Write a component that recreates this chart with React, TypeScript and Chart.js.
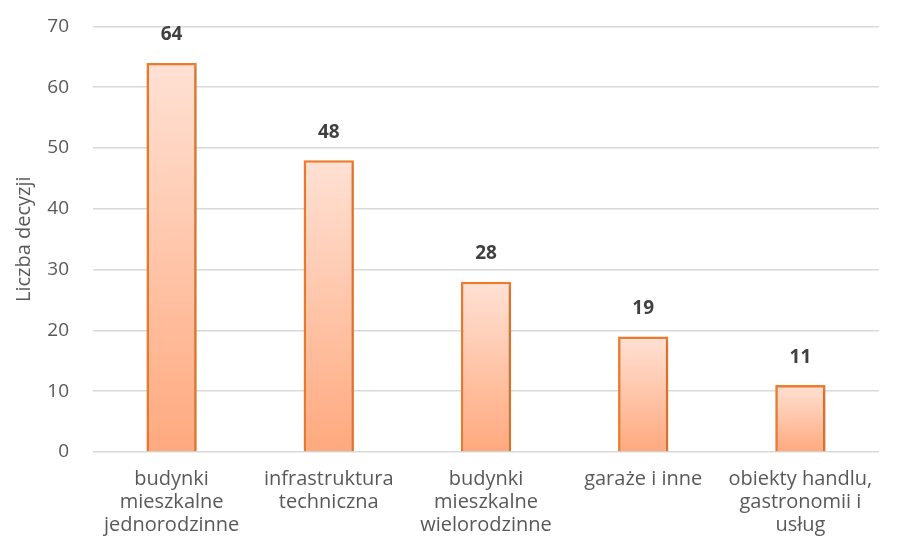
import React, { useEffect, useRef } from "react";
import { Chart, registerables } from "chart.js";

Chart.register(...registerables);

const categories: string[][] = [
  ["budynki", "mieszkalne", "jednorodzinne"],
  ["infrastruktura", "techniczna"],
  ["budynki", "mieszkalne", "wielorodzinne"],
  ["garaże i inne"],
  ["obiekty handlu,", "gastronomii i", "usług"],
];
const values: number[] = [64, 48, 28, 19, 11];
const yTicks = { min: 0, max: 70, step: 10 };
const yTitle = "Liczba decyzji";

const FONT = "'Open Sans', 'DejaVu Sans', sans-serif";
const SHIFT = 9;

const labelPlugin = {
  id: "valueLabels",
  afterDatasetsDraw(chart: any) {
    const { ctx } = chart;
    const meta = chart.getDatasetMeta(0);
    ctx.save();
    ctx.font = `bold 19px ${FONT}`;
    ctx.fillStyle = "#404040";
    ctx.textAlign = "center";
    ctx.textBaseline = "middle";
    meta.data.forEach((bar: any, i: number) => {
      ctx.fillText(String(values[i]), bar.x, bar.y - 28);
    });
    ctx.restore();
  },
};

const shadowPlugin = {
  id: "barShadow",
  beforeDatasetsDraw(chart: any) {
    const { ctx } = chart;
    ctx.save();
    ctx.shadowColor = "rgba(0,0,0,0.18)";
    ctx.shadowBlur = 4;
    ctx.shadowOffsetX = 1;
    ctx.shadowOffsetY = 2;
  },
  afterDatasetsDraw(chart: any) {
    chart.ctx.restore();
  },
};

export default function App() {
  const ref = useRef<HTMLCanvasElement | null>(null);
  useEffect(() => {
    if (!ref.current) return;
    const chart = new Chart(ref.current, {
      type: "bar",
      data: {
        labels: categories,
        datasets: [
          {
            data: values,
            backgroundColor: (c: any) => {
              const ch = c.chart;
              const y = ch.scales?.y;
              if (!y || c.dataIndex === undefined) return "#FFC4A6";
              const top = y.getPixelForValue(values[c.dataIndex]);
              const bottom = y.getPixelForValue(0);
              if (!isFinite(top) || !isFinite(bottom) || top === bottom) return "#FFC4A6";
              const g = ch.ctx.createLinearGradient(0, top, 0, bottom);
              g.addColorStop(0, "#FFE1D4");
              g.addColorStop(1, "#FFA97E");
              return g;
            },
            borderColor: "#F07D2D",
            borderWidth: 2.6,
            barPercentage: 0.32,
            categoryPercentage: 1,
          },
        ],
      },
      options: {
        animation: false,
        responsive: false,
        maintainAspectRatio: false,
        layout: { padding: { top: 10, right: 19, left: 0, bottom: 0 } },
        plugins: {
          legend: { display: false },
          tooltip: { enabled: false },
        },
        scales: {
          x: {
            grid: { display: false },
            border: { display: false },
            ticks: {
              color: "#595959",
              font: { family: FONT, size: 20, lineHeight: 1.15 },
              maxRotation: 0,
              autoSkip: false,
              padding: 8,
            },
            afterFit: (s: any) => {
              s.height = 97;
            },
          },
          y: {
            min: yTicks.min,
            max: yTicks.max,
            ticks: {
              stepSize: yTicks.step,
              color: "#595959",
              font: { family: FONT, size: 19 },
              padding: 24,
            },
            grid: { color: "#D9D9D9", lineWidth: 1.5, drawTicks: false },
            border: { display: false },
            title: {
              display: true,
              text: yTitle,
              color: "#595959",
              font: { family: FONT, size: 20 },
              padding: { top: 12, bottom: 0 },
            },
            afterFit: (s: any) => {
              s.width = 93;
            },
          },
        },
      },
      plugins: [shadowPlugin, labelPlugin],
    });
    return () => chart.destroy();
  }, []);
  return (
    <div style={{ position: "absolute", left: 0, top: 0, width: 898, height: 549, background: "#fff", overflow: "hidden" }}>
      <canvas
        ref={ref}
        width={898}
        height={549 + SHIFT}
        style={{ position: "absolute", left: 0, top: -SHIFT, width: 898, height: 549 + SHIFT }}
      />
    </div>
  );
}
